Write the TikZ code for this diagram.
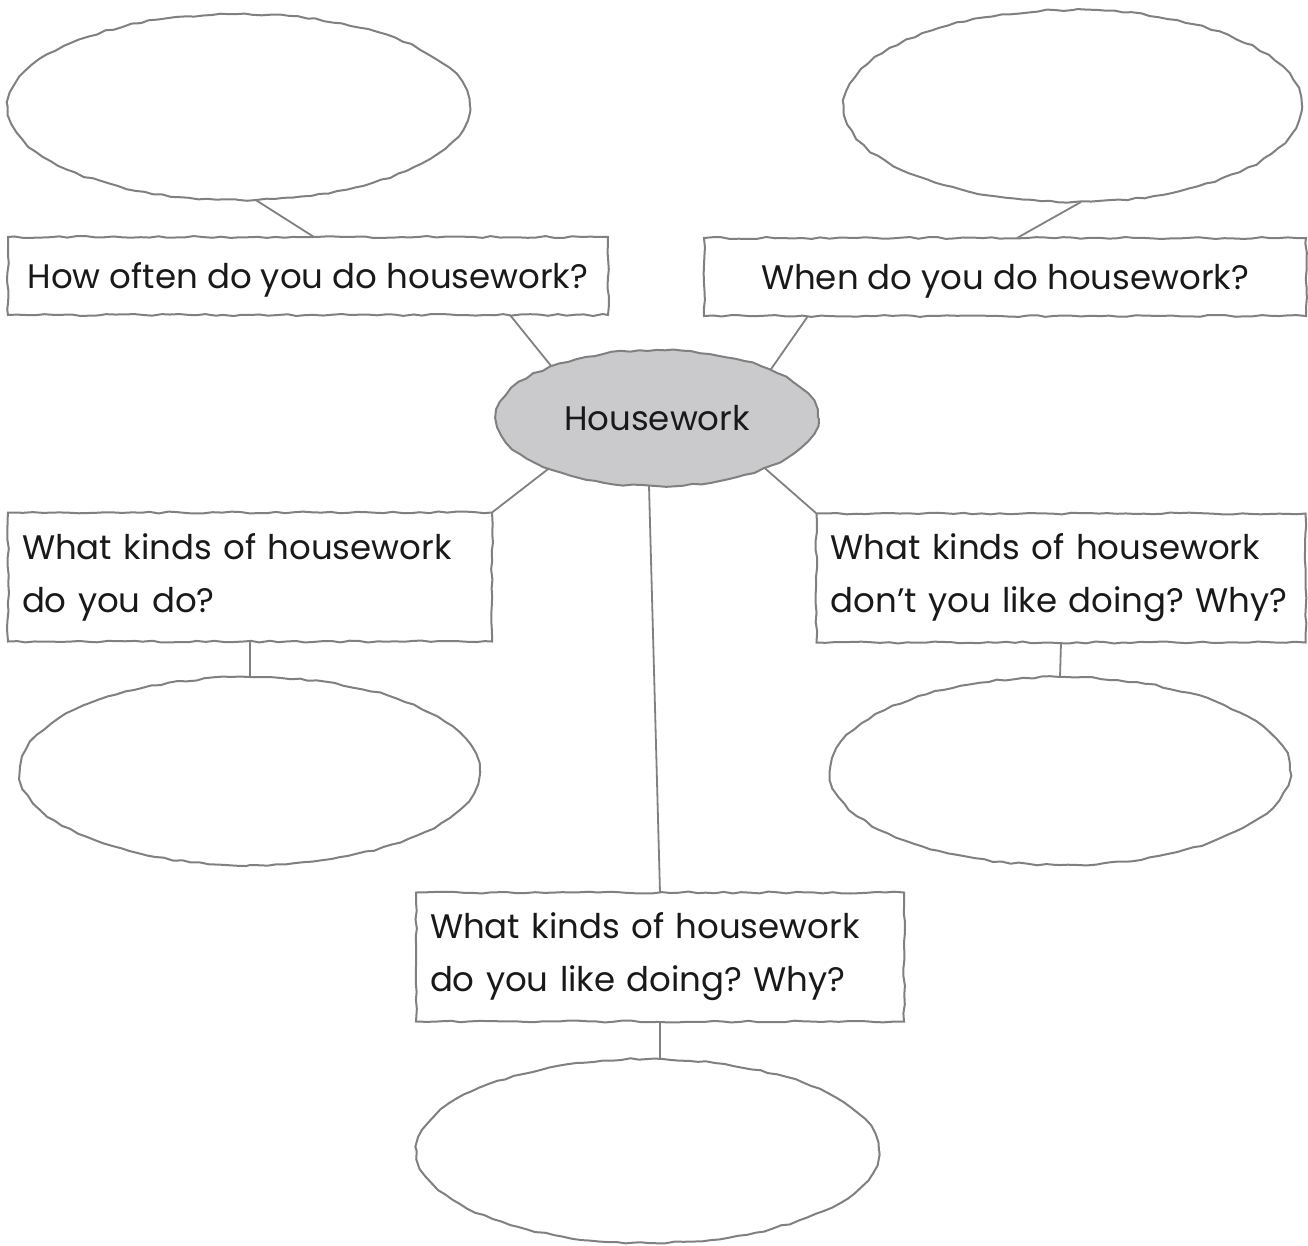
\documentclass[tikz,border=0pt]{standalone}
\usepackage{fontspec}
\setmainfont{Poppins}
\frenchspacing
\usetikzlibrary{shapes.geometric,decorations.pathmorphing}
\definecolor{linegray}{RGB}{128,128,128}
\definecolor{hubgray}{RGB}{202,202,205}
\begin{document}
\begin{tikzpicture}[x=1pt, y=-1pt,
  wobbly/.style={decorate, decoration={random steps, segment length=9pt, amplitude=1pt}},
  bubble/.style={ellipse, draw=linegray, line width=2pt, outer sep=0pt, wobbly},
  question/.style={rectangle, draw=linegray, line width=2pt, outer sep=0pt,
    inner xsep=14pt, minimum height=129pt, wobbly},
  oneline/.style={question, minimum height=78pt, text depth=0pt},
  link/.style={draw=linegray, line width=1.8pt},
  every node/.style={font=\fontsize{34}{53}\selectfont, text=black!90}]
\pgfmathsetseed{7}
\useasboundingbox (0,0) rectangle (1308,1245);
% centre
\node[bubble, fill=hubgray, minimum width=322pt, minimum height=136pt] (hw) at (657,418) {Housework};
% questions
\node[oneline, minimum width=600pt] (often) at (308,276) {How often do you do housework?};
\node[oneline, minimum width=602pt] (when) at (1005,277) {When do you do housework?};
\node[question, text width=456pt, align=left] (kinds) at (250,577) {What kinds of housework\\do you do?};
\node[question, text width=461pt, align=left] (dislike) at (1061,578) {What kinds of housework\\don’t you like doing? Why?};
\node[question, text width=460pt, align=left] (like) at (660,957) {What kinds of housework\\do you like doing? Why?};
% answer bubbles
\node[bubble, minimum width=462pt, minimum height=186pt] (often-a) at (239,107) {};
\node[bubble, minimum width=458pt, minimum height=192pt] (when-a) at (1073,106) {};
\node[bubble, minimum width=460pt, minimum height=188pt] (kinds-a) at (250,771) {};
\node[bubble, minimum width=460pt, minimum height=188pt] (dislike-a) at (1060,771) {};
\node[bubble, minimum width=462pt, minimum height=184pt] (like-a) at (648,1151) {};
% links
\draw[link] (often-a.-80) -- ([xshift=6pt]often.north);
\draw[link] ([xshift=8pt]when-a.south) -- ([xshift=12pt]when.north);
\draw[link] ([xshift=-98pt]often.south east) -- (hw.154);
\draw[link] ([xshift=104pt]when.south west) -- (hw.23);
\draw[link] (hw.205) -- (kinds.north east);
\draw[link] (hw.-25) -- (dislike.north west);
\draw[link] ([xshift=-8pt]hw.south) -- (like.north);
\draw[link] (kinds.south) -- (kinds-a.north);
\draw[link] (dislike.south) -- (dislike-a.north);
\draw[link] (like.south) -- ([xshift=12pt]like-a.north);
\end{tikzpicture}
\end{document}
